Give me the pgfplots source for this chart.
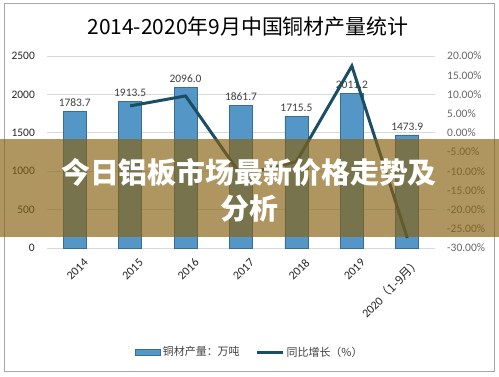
\documentclass[border=0pt]{standalone}
\usepackage{fontspec}
\setmainfont{Carlito}
\newfontfamily\cjk{Noto Sans CJK SC}
\usepackage{pgfplots}
\pgfplotsset{compat=1.18}
\usepackage{pgfplotstable}
\definecolor{barfill}{RGB}{84,151,199}
\definecolor{barline}{RGB}{55,110,150}
\definecolor{linec}{RGB}{27,78,100}
\definecolor{gridc}{RGB}{217,217,217}
\definecolor{txt}{RGB}{64,64,64}
\definecolor{overlayc}{RGB}{137,98,17}

\pgfplotstableread{
x val
0 1783.7
1 1913.5
2 2096.0
3 1861.7
4 1715.5
5 2011.2
6 1473.9
}\bars
\pgfplotstableread{
x g
1 7.0
2 9.6
3 -11.0
4 -7.5
5 17.4
6 -27.4
}\growth

\begin{document}
\begin{tikzpicture}
\useasboundingbox (0bp,0bp) rectangle (499bp,377bp);
\fill[white] (0bp,0bp) rectangle (499bp,377bp);
\draw[gray!70, line width=0.8bp] (4bp,6bp) rectangle (494bp,374bp);
\node[font=\cjk\fontsize{21}{25}\selectfont, text=black] at (248bp,350bp) {2014-2020年9月中国铜材产量统计};
\begin{axis}[at={(47bp,129bp)}, anchor=south west, scale only axis,
  width=388bp, height=192bp,
  xmin=-0.5, xmax=6.5, ymin=0, ymax=2500,
  ytick={0,500,...,2500}, xtick={0,...,6},
  xticklabels={2014,2015,2016,2017,2018,2019,{2020\cjk（1-9月）}},
  axis line style={draw=none}, major tick length=0,
  ymajorgrids, grid style={gridc, line width=0.8bp},
  /pgf/number format/assume math mode=true,
  /pgf/number format/1000 sep={},
  yticklabel style={anchor=east, inner sep=0pt, xshift=-12bp, font=\fontsize{11.5}{13}\selectfont, text=black!85},
  xticklabel style={rotate=45, anchor=east, inner sep=0pt, yshift=-17bp, xshift=-1bp, font=\fontsize{12}{14}\selectfont, text=black!85},
  legend style={at={(0.523,-0.542)}, anchor=center, draw=none, fill=none,
    legend columns=2, font=\cjk\fontsize{11}{13}\selectfont, text=txt,
    /tikz/every even column/.append style={column sep=14bp}},
  clip=false]
\addplot[ybar, bar width=23bp, fill=barfill, draw=barline, line width=0.6bp,
  nodes near coords={\pgfmathprintnumber[fixed,fixed zerofill,precision=1,1000 sep={},assume math mode=true]{\pgfplotspointmeta}},
  nodes near coords style={font=\fontsize{11.5}{13}\selectfont, text=txt, anchor=south, yshift=1bp},
  legend image code/.code={\draw[barline,fill=barfill] (0bp,-3bp) rectangle (25bp,3bp);}]
  table[x=x,y=val]{\bars};
\addlegendentry{铜材产量：万吨}
\addlegendimage{linec, line width=3bp, legend image code/.code={\draw[linec, line width=3bp] (0bp,0bp) -- (26bp,0bp);}}
\addlegendentry{同比增长（\%）}
\end{axis}
\begin{axis}[at={(47bp,129bp)}, anchor=south west, scale only axis,
  width=388bp, height=192bp,
  xmin=-0.5, xmax=6.5, ymin=-30, ymax=20,
  axis y line*=right, axis x line=none,
  ytick={-30,-25,...,20},
  yticklabels={-30.00\%,-25.00\%,-20.00\%,-15.00\%,-10.00\%,-5.00\%,0.00\%,5.00\%,10.00\%,15.00\%,20.00\%},
  axis line style={draw=none}, major tick length=0,
  yticklabel style={anchor=west, inner sep=0pt, xshift=12bp, font=\fontsize{11.5}{13}\selectfont, text=black!60},
  clip=false]
\addplot[linec, line width=3bp] table[x=x,y=g]{\growth};
\end{axis}
\fill[overlayc, opacity=0.67] (0bp,140bp) rectangle (499bp,238bp);
\node[text=white, font=\cjk\bfseries\fontsize{29}{36}\selectfont, align=center] at (249bp,187bp) {今日铝板市场最新价格走势及\\分析};
\end{tikzpicture}
\end{document}
